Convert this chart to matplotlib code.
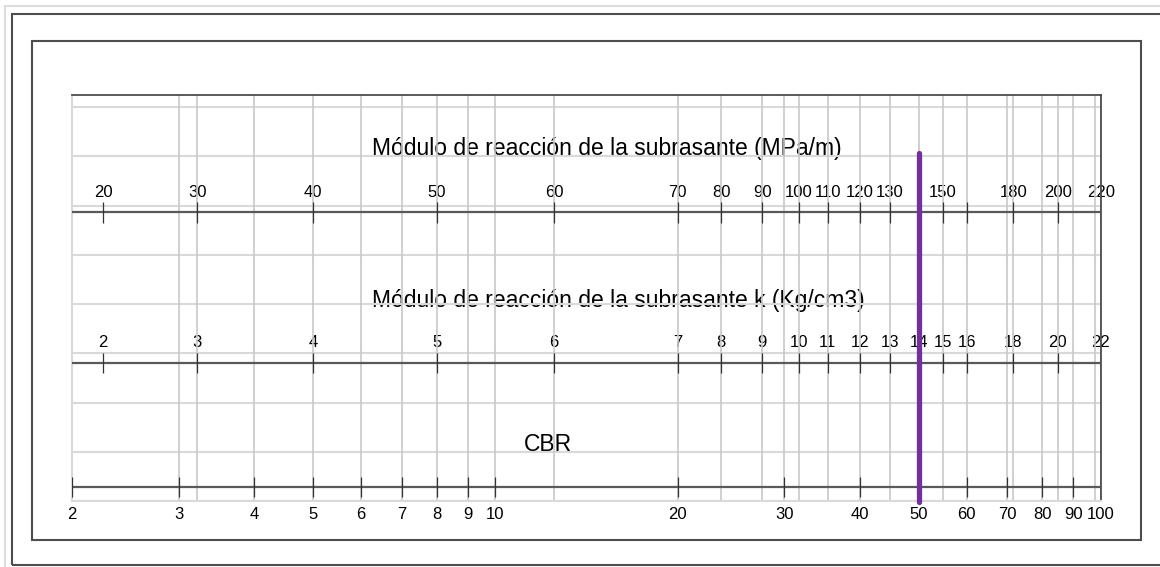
import matplotlib
matplotlib.use("Agg")
import matplotlib.pyplot as plt
from matplotlib.patches import Rectangle

# CBR scale (bottom axis, log)
cbr_ticks = [2, 3, 4, 5, 6, 7, 8, 9, 10, 20, 30, 40, 50, 60, 70, 80, 90, 100]

# modulus scales: each tick sits on the CBR value read below it
mod_at_cbr = [2.25, 3.22, 5, 8, 12.5, 20, 23.6, 27.6, 31.7, 35.4,
              40, 44.8, 50, 54.8, 60, 71.7, 84.8, 100]
k_labels = ['2', '3', '4', '5', '6', '7', '8', '9', '10', '11',
            '12', '13', '14', '15', '16', '18', '20', '22']
mpa_labels = ['20', '30', '40', '50', '60', '70', '80', '90', '100', '110',
              '120', '130', '', '150', '', '180', '200', '220']
extra_grid = [97.8]

cbr_design = 50

W, H = 1160, 567
plt.rcParams['font.family'] = ['Liberation Sans Narrow', 'Liberation Sans', 'DejaVu Sans']
fig = plt.figure(figsize=(W / 100, H / 100), dpi=100)

def fx(x):
    return x / W

def fy(y):
    return 1 - y / H

# frames around the chart (pixel layout)
dark = '#4d4d4d'
fig.add_artist(Rectangle((fx(5), fy(575)), fx(1160), 569 / H, fill=False,
                         edgecolor='#dcdcdc', lw=1.5, transform=fig.transFigure))
fig.add_artist(Rectangle((fx(12), fy(565)), fx(1160), 551 / H, fill=False,
                         edgecolor=dark, lw=1.5, transform=fig.transFigure))
fig.add_artist(Rectangle((fx(32), fy(540)), fx(1109), 499 / H, fill=False,
                         edgecolor=dark, lw=1.5, transform=fig.transFigure))

# plot box: x in CBR (log), y in pixel rows
x0, x1, y0, y1 = 72, 1101, 95, 501
ax = fig.add_axes([fx(x0), fy(y1), (x1 - x0) / W, (y1 - y0) / H])
ax.set_xscale('log')
ax.set_xlim(2, 100)
ax.set_ylim(y1, y0)
ax.set_xticks([])
ax.set_yticks([])
ax.minorticks_off()
ax.patch.set_alpha(0)
for s in ['left', 'bottom']:
    ax.spines[s].set_color('#d9d9d9')
    ax.spines[s].set_linewidth(1.5)
for s in ['top', 'right']:
    ax.spines[s].set_color('#404040')
    ax.spines[s].set_linewidth(1.2)

grid_c = '#d9d9d9'
# horizontal grid
for i in range(9):
    ax.axhline(107 + 49.25 * i, color=grid_c, lw=1.5, zorder=2)
# vertical grid
vgrid = sorted(set(cbr_ticks + mod_at_cbr[1:] + extra_grid))
for v in vgrid:
    ax.axvline(v, color='#c8c8c8', lw=1.2, zorder=2)

# three scale lines
y_mpa, y_k, y_cbr = 212, 363, 487
for yl in (y_mpa, y_k, y_cbr):
    ax.plot([2, 100], [yl, yl], color='#595959', lw=1.6, zorder=3, solid_capstyle='butt')

ax.vlines(mod_at_cbr, y_mpa - 10, y_mpa + 11, color='#333333', lw=0.9, zorder=3)
ax.vlines(mod_at_cbr, y_k - 10, y_k + 10, color='#333333', lw=0.9, zorder=3)
ax.vlines(cbr_ticks, y_cbr - 10, y_cbr + 10, color='#333333', lw=0.9, zorder=3)

fs_tick = 12
for v, lab in zip(mod_at_cbr, mpa_labels):
    if lab:
        ax.text(v, 197, lab, ha='center', va='baseline', fontsize=fs_tick, zorder=1)
for v, lab in zip(mod_at_cbr, k_labels):
    ax.text(v, 347, lab, ha='center', va='baseline', fontsize=fs_tick, zorder=1)
for v in cbr_ticks:
    ax.text(v, 519, str(v), ha='center', va='baseline', fontsize=fs_tick,
            zorder=1, clip_on=False)

# scale titles (under the grid, like the reference)
fs_title = 16.5
ax.text(fx(372), fy(155), 'Módulo de reacción de la subrasante (MPa/m)',
        transform=fig.transFigure, ha='left', va='baseline', fontsize=fs_title,
        zorder=1, clip_on=False)
ax.text(fx(372), fy(307), 'Módulo de reacción de la subrasante k (Kg/cm3)',
        transform=fig.transFigure, ha='left', va='baseline', fontsize=fs_title,
        zorder=1, clip_on=False)
ax.text(fx(524), fy(451), 'CBR', transform=fig.transFigure, ha='left',
        va='baseline', fontsize=fs_title, zorder=1, clip_on=False)

# design CBR line
ax.plot([cbr_design, cbr_design], [153, 502], color='#7030a0', lw=3.8,
        solid_capstyle='round', zorder=5, clip_on=False)

fig.savefig('out.png', dpi=100)
